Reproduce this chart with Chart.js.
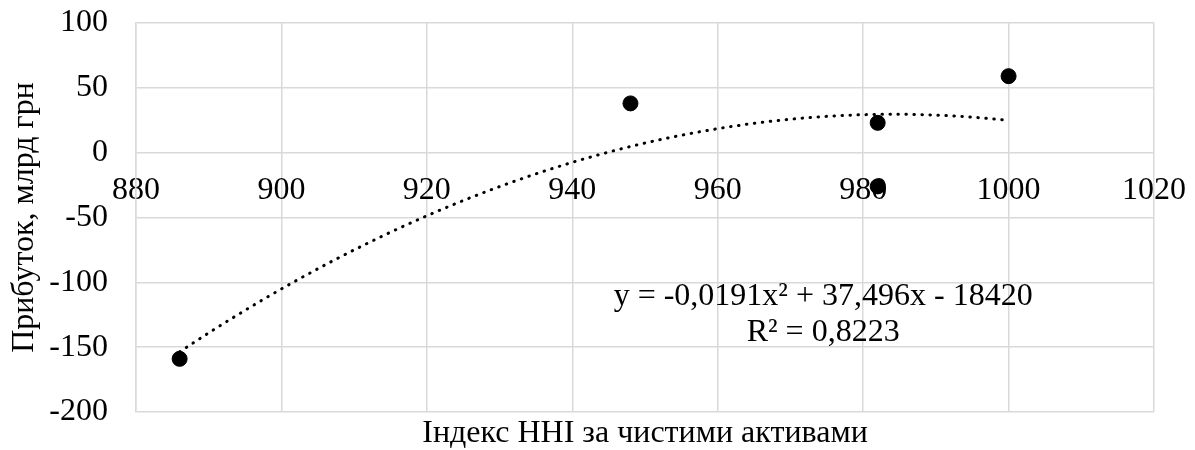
<!DOCTYPE html>
<html>
<head>
<meta charset="utf-8">
<script src="https://cdn.jsdelivr.net/npm/chart.js@4"></script>
<style>
  html, body { margin: 0; padding: 0; background: #fff; }
  #wrap { width: 1195px; height: 450px; }
</style>
</head>
<body>
<div id="wrap"><canvas id="grafica"></canvas></div>
<script>
// datos
const indiceHHI = [886, 948, 982, 982, 1000];
const beneficio = [-159, 38, 23, -26, 59];
const ticksX = [880, 900, 920, 940, 960, 980, 1000, 1020];
const ticksY = [-200, -150, -100, -50, 0, 50, 100];
const ecuacion = 'y = -0,0191x² + 37,496x - 18420';
const r2 = 'R² = 0,8223';

const fuente = 'Liberation Serif, Times New Roman, serif';
const gris = '#d9d9d9';
const tam = 32;

// ajuste polinomico de grado 2 (minimos cuadrados) sobre los puntos
function ajustePoli2(xs, ys) {
    const x0 = 960;
    let s = [0, 0, 0, 0, 0], t = [0, 0, 0];
    xs.forEach((x, i) => {
        const u = x - x0;
        for (let k = 0; k < 5; k++) s[k] += Math.pow(u, k);
        for (let k = 0; k < 3; k++) t[k] += ys[i] * Math.pow(u, k);
    });
    const m = [[s[0], s[1], s[2], t[0]], [s[1], s[2], s[3], t[1]], [s[2], s[3], s[4], t[2]]];
    for (let i = 0; i < 3; i++) {
        for (let j = i + 1; j < 3; j++) {
            const f = m[j][i] / m[i][i];
            for (let k = i; k < 4; k++) m[j][k] -= f * m[i][k];
        }
    }
    const c = [0, 0, 0];
    for (let i = 2; i >= 0; i--) {
        let v = m[i][3];
        for (let k = i + 1; k < 3; k++) v -= m[i][k] * c[k];
        c[i] = v / m[i][i];
    }
    return x => { const u = x - x0; return c[0] + c[1] * u + c[2] * u * u; };
}

const tendencia = ajustePoli2(indiceHHI, beneficio);
const xMin = Math.min(...indiceHHI), xMax = Math.max(...indiceHHI);
const puntosTendencia = [];
for (let x = xMin; x <= xMax; x += 1) puntosTendencia.push({ x: x, y: tendencia(x) });

const textoEcuacion = {
    id: 'textoEcuacion',
    afterDatasetsDraw(chart) {
        const { ctx, scales } = chart;
        const cx = scales.x.getPixelForValue(974.5);
        const cy = scales.y.getPixelForValue(-111);
        ctx.save();
        ctx.fillStyle = '#000';
        ctx.font = tam + 'px ' + fuente;
        ctx.textAlign = 'center';
        ctx.textBaseline = 'middle';
        ctx.fillText(ecuacion, cx, cy);
        ctx.fillText(r2, cx, cy + 36);
        ctx.restore();
    }
};

const fondo = {
    id: 'fondo',
    beforeDraw(chart) {
        const ctx = chart.ctx;
        ctx.save();
        ctx.fillStyle = '#fff';
        ctx.fillRect(0, 0, chart.width, chart.height);
        ctx.restore();
    }
};

const ctx = document.getElementById('grafica');
new Chart(ctx, {
    type: 'scatter',
    data: {
        datasets: [{
            label: 'Прибуток',
            data: indiceHHI.map((x, i) => ({ x: x, y: beneficio[i] })),
            backgroundColor: '#000',
            borderColor: '#000',
            pointRadius: 7.5,
            pointHoverRadius: 7.5,
            order: 0
        }, {
            label: 'Тренд',
            data: puntosTendencia,
            showLine: true,
            pointRadius: 0,
            borderColor: '#000',
            borderWidth: 3,
            borderDash: [0.5, 7.5],
            borderCapStyle: 'round',
            order: 1
        }]
    },
    options: {
        responsive: true,
        maintainAspectRatio: false,
        animation: false,
        layout: { padding: { top: 23, right: 41, left: 0, bottom: 0 } },
        scales: {
            x: {
                type: 'linear',
                position: { y: 0 },
                min: 880,
                max: 1020,
                afterBuildTicks: s => { s.ticks = ticksX.map(v => ({ value: v })); },
                grid: { color: gris, lineWidth: 1.5, drawTicks: true, tickLength: 13, tickColor: 'rgba(0,0,0,0)' },
                border: { display: false },
                ticks: {
                    color: '#000', padding: 6, maxRotation: 0,
                    font: { family: fuente, size: tam },
                    callback: v => String(v)
                }
            },
            x2: {
                type: 'linear',
                position: 'bottom',
                display: true,
                grid: { display: false, drawTicks: false },
                border: { display: false },
                ticks: { display: false },
                afterFit: s => { s.height = 38; },
                title: {
                    display: true,
                    text: 'Індекс ННІ за чистими активами',
                    color: '#000',
                    padding: { top: 0, bottom: -3 },
                    font: { family: fuente, size: tam }
                }
            },
            y: {
                min: -200,
                max: 100,
                afterBuildTicks: s => { s.ticks = ticksY.map(v => ({ value: v })); },
                afterFit: s => { s.width = 136; },
                grid: { color: gris, lineWidth: 1.5, drawTicks: true, tickLength: 25, tickColor: 'rgba(0,0,0,0)' },
                border: { color: gris, width: 1.5 },
                ticks: {
                    color: '#000', padding: 3,
                    font: { family: fuente, size: tam },
                    callback: v => String(v)
                },
                title: {
                    display: true,
                    text: 'Прибуток, млрд грн',
                    color: '#000',
                    padding: { top: 5, bottom: 0 },
                    font: { family: fuente, size: tam }
                }
            }
        },
        plugins: {
            legend: { display: false },
            tooltip: { enabled: false }
        }
    },
    plugins: [fondo, textoEcuacion]
});
</script>
</body>
</html>
